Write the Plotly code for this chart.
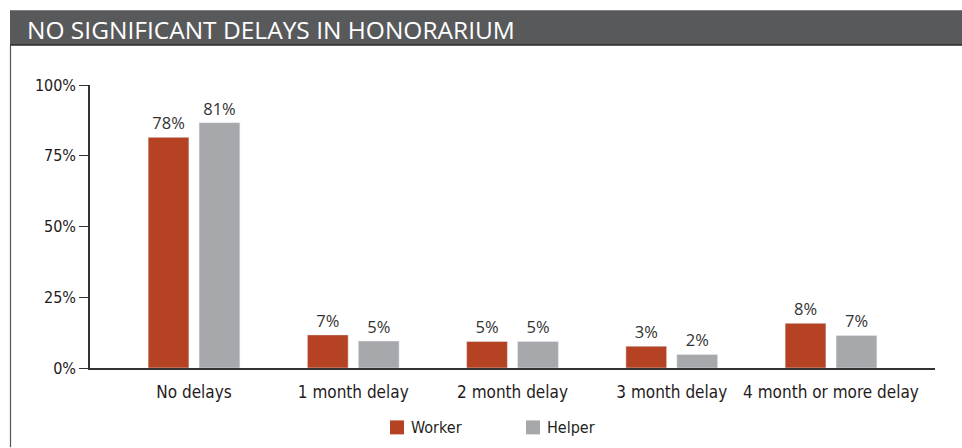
import plotly.graph_objects as go

categories = ["No delays", "1 month delay", "2 month delay", "3 month delay", "4 month or more delay"]
worker_height = [81.5, 11.7, 9.4, 7.7, 15.8]
helper_height = [86.7, 9.5, 9.4, 4.8, 11.5]
worker_labels = ["78%", "7%", "5%", "3%", "8%"]
helper_labels = ["81%", "5%", "5%", "2%", "7%"]
series_names = ["Worker", "Helper"]
y_ticks = [0, 25, 50, 75, 100]
y_tick_labels = ["0%", "25%", "50%", "75%", "100%"]

WORKER = "#b54222"
HELPER = "#a7a8ab"
COND = "DejaVu Sans Condensed, Liberation Sans Narrow, Arial Narrow, sans-serif"
LABELFONT = dict(size=16.5, color="#333333", family="Open Sans, sans-serif")

fig = go.Figure()
fig.add_trace(go.Bar(name=series_names[0], x=categories, y=worker_height, text=worker_labels,
                     textposition="outside", marker_color=WORKER, cliponaxis=False,
                     textfont=LABELFONT, showlegend=False))
fig.add_trace(go.Bar(name=series_names[1], x=categories, y=helper_height, text=helper_labels,
                     textposition="outside", marker_color=HELPER, cliponaxis=False,
                     textfont=LABELFONT, showlegend=False))

L, R, T, B = 90, 27, 85, 79.5
W, H = 962, 448
pw, ph = W - L - R, H - T - B

def px(x):
    return (x - L) / pw

def py(y):
    return (H - B - y) / ph

shapes = [
    dict(type="rect", xref="paper", yref="paper", x0=px(10), x1=px(962), y0=py(45), y1=py(10),
         fillcolor="#58595b", line=dict(width=0), layer="below"),
    dict(type="line", xref="paper", yref="paper", x0=px(10), x1=px(962), y0=py(45), y1=py(45),
         line=dict(color="#2a2a2a", width=1.5)),
    dict(type="line", xref="paper", yref="paper", x0=px(10.5), x1=px(10.5), y0=py(45), y1=py(448),
         line=dict(color="#555555", width=1.2)),
]
annotations = [dict(text="NO SIGNIFICANT DELAYS IN HONORARIUM", xref="paper", yref="paper",
                    x=px(25), y=py(29), xanchor="left", yanchor="middle", showarrow=False,
                    font=dict(size=24.5, color="white", family="Open Sans, sans-serif"))]

# manual legend
legend_x = [390, 526]
for name, color, lx in zip(series_names, [WORKER, HELPER], legend_x):
    shapes.append(dict(type="rect", xref="paper", yref="paper", x0=px(lx), x1=px(lx + 14),
                       y0=py(435), y1=py(421), fillcolor=color, line=dict(width=0)))
    annotations.append(dict(text=name, xref="paper", yref="paper", x=px(lx + 19), y=py(428.5),
                            xanchor="left", yanchor="middle", showarrow=False,
                            font=dict(size=16, color="#231f20", family=COND)))

fig.update_layout(
    width=W, height=H,
    margin=dict(l=L, r=R, t=T, b=B),
    paper_bgcolor="white", plot_bgcolor="white",
    barmode="group", bargap=0.36, bargroupgap=0.2,
    shapes=shapes,
    annotations=annotations,
    showlegend=False,
    xaxis=dict(range=[-0.653, 4.653], showline=True, linecolor="#333333", linewidth=1.5,
               ticks="", tickfont=dict(size=17, color="#1f1b1c", family=COND), ticklabelstandoff=8),
    yaxis=dict(range=[0, 100], tickvals=y_ticks, ticktext=y_tick_labels, showgrid=False,
               showline=True, linecolor="#333333", linewidth=1.5, ticks="outside", ticklen=9,
               tickcolor="#333333", zeroline=False,
               tickfont=dict(size=16, color="#1f1b1c", family=COND)),
)

fig.write_html("out.html", config={"displayModeBar": False},
               post_script="document.body.style.margin='0';document.body.style.overflow='hidden';")
